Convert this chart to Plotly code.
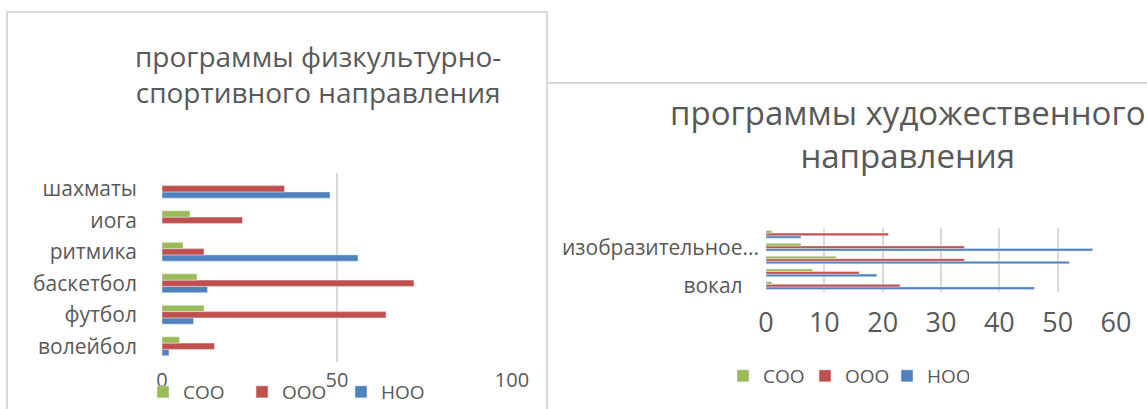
import plotly.graph_objects as go

# ---------------- data ----------------
sport_categories = ["волейбол", "футбол", "баскетбол", "ритмика", "иога", "шахматы"]
sport_noo = [2, 9, 13, 56, 0, 48]
sport_ooo = [15, 64, 72, 12, 23, 35]
sport_soo = [5, 12, 10, 6, 8, 0]
sport_ticks = [0, 50, 100]

art_categories = ["вокал", "хореография", "театр", "изобразительное искусство", "декоративно-прикладное"]
art_label_cats = ["вокал", "изобразительное искусство"]
art_label_text = ["вокал\u00a0\u00a0\u00a0", "изобразительное..."]
art_noo = [46, 19, 52, 56, 6]
art_ooo = [23, 16, 34, 34, 21]
art_soo = [1, 8, 12, 6, 1]
art_ticks = [0, 10, 20, 30, 40, 50, 60]

series_names = ["НОО", "ООО", "СОО"]
series_colors = ["#4f81bd", "#c0504d", "#9bbb59"]

W, H = 1147, 409
FONT = "Open Sans"
GREY = "#595959"
GRID = "#d9d9d9"


def px(x):
    return x / W


def py(y):
    return 1 - y / H


fig = go.Figure()

for name, color, vals in zip(series_names, series_colors, [sport_noo, sport_ooo, sport_soo]):
    fig.add_trace(go.Bar(
        y=sport_categories, x=vals, orientation="h", name=name,
        marker=dict(color=color), xaxis="x", yaxis="y", legend="legend",
    ))

for name, color, vals in zip(series_names, series_colors, [art_noo, art_ooo, art_soo]):
    fig.add_trace(go.Bar(
        y=art_categories, x=vals, orientation="h", name=name,
        marker=dict(color=color), xaxis="x2", yaxis="y2", legend="legend2",
    ))

fig.update_layout(
    width=W, height=H,
    margin=dict(l=0, r=0, t=0, b=0, autoexpand=False),
    paper_bgcolor="white", plot_bgcolor="white",
    barmode="group", bargap=0.4, bargroupgap=0,
    font=dict(family=FONT, color=GREY),
    xaxis=dict(
        domain=[px(162), px(512)], range=[0, 100], tickvals=sport_ticks,
        showgrid=True, gridcolor=GRID, gridwidth=2, zeroline=False,
        showline=False, ticks="", tickfont=dict(size=20, color=GREY),
        ticklabelstandoff=4, anchor="y", automargin=False,
    ),
    yaxis=dict(
        domain=[py(362), py(173)], type="category", categoryorder="array",
        categoryarray=sport_categories, range=[-0.5, 5.5],
        showgrid=False, zeroline=False, showline=False, ticks="",
        tickfont=dict(size=21, color=GREY), ticklabelstandoff=24, anchor="x",
        automargin=False,
    ),
    xaxis2=dict(
        domain=[px(766), px(1116)], range=[0, 60], tickvals=art_ticks,
        showgrid=True, gridcolor=GRID, gridwidth=2, zeroline=False,
        showline=False, ticks="", tickfont=dict(size=27, color=GREY),
        ticklabelstandoff=12, anchor="y2", automargin=False,
    ),
    yaxis2=dict(
        domain=[py(292), py(228)], type="category", categoryorder="array",
        categoryarray=art_categories, range=[-0.5, 4.5],
        tickmode="array", tickvals=art_label_cats, ticktext=art_label_text,
        showgrid=False, zeroline=False, showline=False, ticks="",
        tickfont=dict(size=21, color=GREY), ticklabelstandoff=6, anchor="x2",
        automargin=False,
    ),
    legend=dict(
        orientation="h", traceorder="reversed", x=px(143), y=py(392),
        xanchor="left", yanchor="middle", entrywidth=54, entrywidthmode="pixels",
        font=dict(size=19, color=GREY), bgcolor="rgba(0,0,0,0)",
    ),
    legend2=dict(
        orientation="h", traceorder="reversed", x=px(723), y=py(376),
        xanchor="left", yanchor="middle", entrywidth=37, entrywidthmode="pixels",
        font=dict(size=19, color=GREY), bgcolor="rgba(0,0,0,0)",
    ),
    showlegend=True,
)

# chart frames
fig.add_shape(type="rect", xref="paper", yref="paper",
              x0=px(7), x1=px(547), y0=-0.1, y1=py(12),
              line=dict(color=GRID, width=2), fillcolor="rgba(0,0,0,0)", layer="below")
fig.add_shape(type="rect", xref="paper", yref="paper",
              x0=px(547), x1=1.1, y0=-0.1, y1=py(83),
              line=dict(color=GRID, width=2), fillcolor="rgba(0,0,0,0)", layer="below")

# titles
fig.add_annotation(text="программы физкультурно-<br>спортивного направления",
                   xref="paper", yref="paper", x=px(318), y=py(74),
                   xanchor="center", yanchor="middle", showarrow=False,
                   font=dict(size=28, color=GREY, family=FONT), align="center")
fig.add_annotation(text="программы художественного<br>направления",
                   xref="paper", yref="paper", x=px(908), y=py(134),
                   xanchor="center", yanchor="middle", showarrow=False,
                   font=dict(size=33, color=GREY, family=FONT), align="center")

fig.write_html("out.html",
               config={"displayModeBar": False},
               post_script="document.body.style.margin='0';document.body.style.overflow='hidden';")
